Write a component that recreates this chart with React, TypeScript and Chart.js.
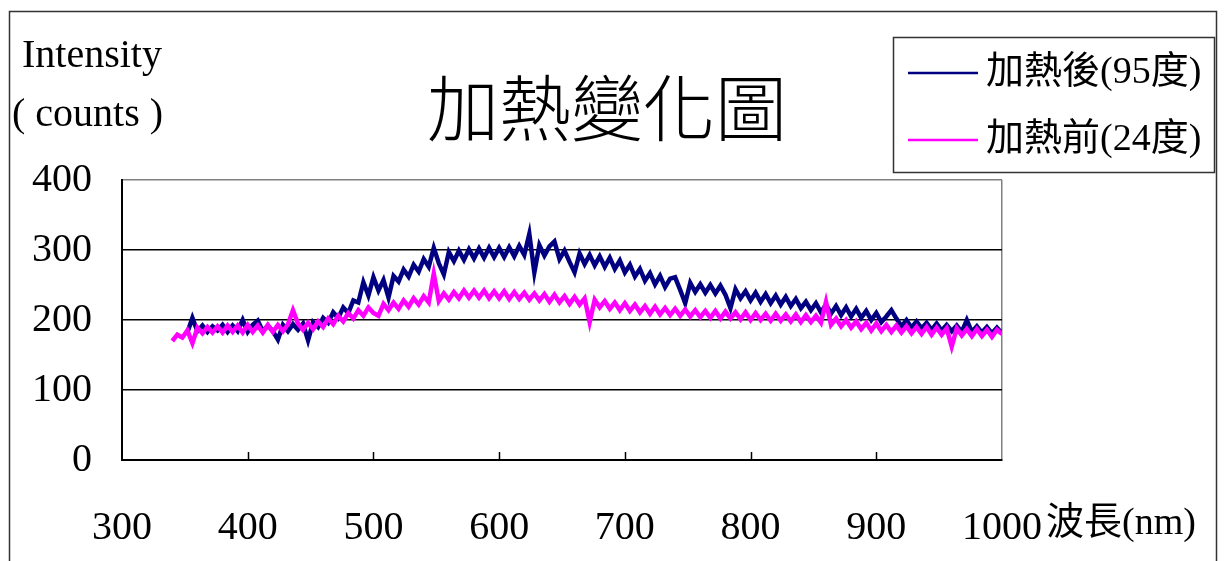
import { useEffect, useRef } from 'react';
import { Chart, registerables } from 'chart.js';

Chart.register(...registerables);

const titleText = '加熱變化圖';
const yTitleLines = ['Intensity', '( counts )'];
const xTitle = '波長(nm)';
const seriesNames = ['加熱後(95度)', '加熱前(24度)'];
const seriesColors = ['#000080', '#FF00FF'];

const xTickValues = [300, 400, 500, 600, 700, 800, 900, 1000];
const yTickValues = [0, 100, 200, 300, 400];

const wavelengths = [
  340, 344, 348, 352, 356, 360, 364, 368, 372, 376,
  380, 384, 388, 392, 396, 400, 404, 408, 412, 416,
  420, 424, 428, 432, 436, 440, 444, 448, 452, 456,
  460, 464, 468, 472, 476, 480, 484, 488, 492, 496,
  500, 504, 508, 512, 516, 520, 524, 528, 532, 536,
  540, 544, 548, 552, 556, 560, 564, 568, 572, 576,
  580, 584, 588, 592, 596, 600, 604, 608, 612, 616,
  620, 624, 628, 632, 636, 640, 644, 648, 652, 656,
  660, 664, 668, 672, 676, 680, 684, 688, 692, 696,
  700, 704, 708, 712, 716, 720, 724, 728, 732, 736,
  740, 744, 748, 752, 756, 760, 764, 768, 772, 776,
  780, 784, 788, 792, 796, 800, 804, 808, 812, 816,
  820, 824, 828, 832, 836, 840, 844, 848, 852, 856,
  860, 864, 868, 872, 876, 880, 884, 888, 892, 896,
  900, 904, 908, 912, 916, 920, 924, 928, 932, 936,
  940, 944, 948, 952, 956, 960, 964, 968, 972, 976,
  980, 984, 988, 992, 996, 1000,
];

// 加熱後 (95度)
const after95: (number | null)[] = [
  null, null, null, 182, 203, 184, 192, 183, 191, 185,
  193, 183, 192, 184, 200, 183, 193, 199, 184, 192,
  184, 172, 193, 184, 194, 186, 195, 171, 197, 190,
  203, 196, 211, 203, 218, 210, 228, 225, 254, 235,
  261, 242, 257, 232, 263, 255, 272, 262, 279, 269,
  287, 276, 303, 281, 265, 297, 284, 299, 286, 301,
  288, 302, 289, 303, 290, 303, 290, 304, 291, 306,
  293, 323, 268, 307, 292, 305, 312, 287, 299, 283,
  268, 295, 280, 293, 278, 291, 276, 289, 273, 285,
  268, 279, 262, 273, 256, 267, 251, 263, 247, 259,
  261, 243, 224, 253, 240, 251, 239, 250, 238, 249,
  236, 217, 244, 231, 241, 228, 239, 226, 237, 224,
  235, 222, 233, 220, 230, 217, 226, 214, 224, 211,
  222, 209, 220, 207, 218, 205, 216, 203, 213, 200,
  210, 197, 205, 214, 202, 191, 200, 189, 198, 188,
  196, 186, 195, 185, 193, 184, 192, 183, 200, 183,
  191, 182, 190, 181, 189, 181,
];

// 加熱前 (24度)
const before24: (number | null)[] = [
  170, 179, 175, 185, 167, 189, 181, 190, 182, 191,
  182, 192, 183, 192, 182, 193, 183, 192, 182, 193,
  183, 193, 184, 194, 214, 195, 186, 196, 187, 198,
  190, 202, 194, 206, 198, 210, 202, 214, 206, 218,
  210, 206, 223, 214, 225, 216, 228, 219, 231, 222,
  234, 225, 266, 227, 238, 229, 240, 231, 242, 232,
  242, 232, 242, 231, 241, 231, 241, 230, 240, 230,
  239, 229, 238, 228, 237, 226, 236, 225, 234, 223,
  233, 222, 231, 197, 229, 218, 227, 216, 225, 214,
  224, 213, 222, 211, 220, 209, 219, 208, 217, 207,
  216, 206, 215, 205, 214, 204, 213, 203, 213, 202,
  212, 202, 211, 201, 211, 200, 210, 200, 209, 199,
  209, 199, 208, 198, 208, 197, 207, 197, 206, 196,
  226, 193, 202, 191, 200, 189, 198, 187, 196, 185,
  195, 184, 193, 183, 192, 182, 191, 181, 190, 180,
  190, 179, 189, 179, 188, 162, 188, 178, 187, 177,
  187, 177, 186, 176, 186, 180,
];

const SERIF = '"Liberation Serif", "Noto Sans CJK TC", serif';

const decorPlugin = {
  id: 'decor',
  beforeDraw(chart: any) {
    const ctx = chart.ctx;
    ctx.save();
    ctx.fillStyle = '#ffffff';
    ctx.fillRect(0, 0, chart.width, chart.height);
    ctx.restore();
  },
  afterDraw(chart: any) {
    const ctx = chart.ctx;
    const area = chart.chartArea;
    const xs = chart.scales.x;
    ctx.save();

    // inside tick marks on x-axis
    ctx.strokeStyle = '#000';
    ctx.lineWidth = 1.5;
    for (const v of xTickValues) {
      if (v <= 300 || v >= 1000) continue;
      const px = Math.round(xs.getPixelForValue(v)) + 0.5;
      ctx.beginPath();
      ctx.moveTo(px, area.bottom);
      ctx.lineTo(px, area.bottom - 8);
      ctx.stroke();
    }

    // outer frame
    ctx.strokeStyle = '#333';
    ctx.lineWidth = 1.5;
    ctx.strokeRect(9.5, 11.5, 1207, 570);

    // title
    ctx.fillStyle = '#000';
    ctx.textAlign = 'center';
    ctx.textBaseline = 'middle';
    ctx.font = '300 72px "Noto Sans CJK TC"';
    ctx.fillText(titleText, 607, 108);

    // y axis title
    ctx.textAlign = 'left';
    ctx.font = '40px ' + SERIF;
    ctx.fillText(yTitleLines[0], 22, 56);
    ctx.fillText(yTitleLines[1], 12, 115);

    // legend
    ctx.strokeStyle = '#333';
    ctx.lineWidth = 1.5;
    ctx.strokeRect(893.5, 37.5, 321, 135);
    const rows = [73, 140];
    ctx.font = '38px ' + SERIF;
    for (let i = 0; i < 2; i++) {
      ctx.strokeStyle = seriesColors[i];
      ctx.lineWidth = 2.5;
      ctx.beginPath();
      ctx.moveTo(908, rows[i]);
      ctx.lineTo(978, rows[i]);
      ctx.stroke();
      ctx.fillStyle = '#000';
      ctx.fillText(seriesNames[i], 986, rows[i]);
    }

    // x axis title
    ctx.font = '38px ' + SERIF;
    ctx.fillText(xTitle, 1046, 524);

    ctx.restore();
  },
};

export default function App() {
  const ref = useRef<HTMLCanvasElement | null>(null);

  useEffect(() => {
    if (!ref.current) return;
    const toPoints = (arr: (number | null)[]) =>
      wavelengths.map((x, i) => ({ x, y: arr[i] }));

    const chart = new Chart(ref.current, {
      type: 'line',
      data: {
        datasets: [
          {
            label: seriesNames[1],
            data: toPoints(before24) as any,
            borderColor: seriesColors[1],
            borderWidth: 4.5,
            pointRadius: 0,
            tension: 0,
            order: 1,
          },
          {
            label: seriesNames[0],
            data: toPoints(after95) as any,
            borderColor: seriesColors[0],
            borderWidth: 4.5,
            pointRadius: 0,
            tension: 0,
            order: 2,
          },
        ],
      },
      options: {
        responsive: false,
        animation: false,
        events: [],
        layout: { padding: { left: 0, top: 180, right: 222, bottom: 0 } },
        plugins: {
          legend: { display: false },
          title: { display: false },
          tooltip: { enabled: false },
        },
        scales: {
          x: {
            type: 'linear',
            min: 300,
            max: 1000,
            afterFit: (s: any) => {
              s.height = 101;
            },
            afterBuildTicks: (s: any) => {
              s.ticks = xTickValues.map((v) => ({ value: v }));
            },
            ticks: {
              color: '#000',
              font: { family: SERIF, size: 40 },
              padding: 44,
              maxRotation: 0,
              autoSkip: false,
              callback: (v: any) => String(v),
            },
            grid: {
              drawTicks: false,
              color: (c: any) => (c.tick && c.tick.value === 1000 ? '#808080' : 'rgba(0,0,0,0)'),
              lineWidth: 1.5,
            },
            border: { display: true, color: '#000', width: 2 },
          },
          y: {
            min: 0,
            max: 400,
            afterFit: (s: any) => {
              s.width = 122;
            },
            afterBuildTicks: (s: any) => {
              s.ticks = yTickValues.map((v) => ({ value: v }));
            },
            ticks: {
              color: '#000',
              font: { family: SERIF, size: 40 },
              padding: 30,
              callback: (v: any) => String(v),
            },
            grid: {
              drawTicks: false,
              color: (c: any) => (c.tick && c.tick.value === 400 ? '#808080' : '#000'),
              lineWidth: 1.5,
            },
            border: { display: true, color: '#000', width: 2 },
          },
        },
      },
      plugins: [decorPlugin],
    });
    return () => chart.destroy();
  }, []);

  return (
    <div style={{ position: 'fixed', left: 0, top: 0, width: 1224, height: 561, background: '#fff' }}>
      <canvas ref={ref} width={1224} height={561} style={{ width: 1224, height: 561, display: 'block' }} />
    </div>
  );
}
